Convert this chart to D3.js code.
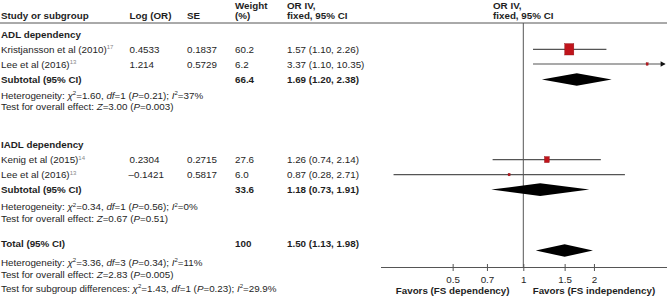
<!DOCTYPE html>
<html>
<head>
<meta charset="utf-8">
<script src="https://cdn.jsdelivr.net/npm/d3@7"></script>
<style>
  body { margin: 0; background: #fff; }
  svg { display: block; font-family: "Liberation Sans", Arial, sans-serif; }
</style>
</head>
<body>
<svg id="forest" width="667" height="301"></svg>
<script>
// ---- data ----
const groupNames = ["ADL dependency", "IADL dependency"];

const studyNames = ["Kristjansson et al (2010)", "Lee et al (2016)", "Kenig et al (2015)", "Lee et al (2016)"];
const studyRefs = ["17", "13", "14", "13"];
const studyLogOR = ["0.4533", "1.214", "0.2304", "\u20130.1421"];
const studySE = ["0.1837", "0.5729", "0.2715", "0.5817"];
const studyWeight = [60.2, 6.2, 27.6, 6.0];
const studyOR = [1.57, 3.37, 1.26, 0.87];
const studyLo = [1.10, 1.10, 0.74, 0.28];
const studyHi = [2.26, 10.35, 2.14, 2.71];

const summaryNames = ["Subtotal (95% CI)", "Subtotal (95% CI)", "Total (95% CI)"];
const summaryWeight = ["66.4", "33.6", "100"];
const summaryOR = [1.69, 1.18, 1.50];
const summaryLo = [1.20, 0.73, 1.13];
const summaryHi = [2.38, 1.91, 1.98];

// _x_ = italic, ^x^ = superscript
const noteLines = [
    "Heterogeneity: _\u03c7_^2^=1.60, _df_=1 (_P_=0.21); _I_^2^=37%",
    "Test for overall effect: _Z_=3.00 (_P_=0.003)",
    "Heterogeneity: _\u03c7_^2^=0.34, _df_=1 (_P_=0.56); _I_^2^=0%",
    "Test for overall effect: _Z_=0.67 (_P_=0.51)",
    "Heterogeneity: _\u03c7_^2^=3.36, _df_=3 (_P_=0.34); _I_^2^=11%",
    "Test for overall effect: _Z_=2.83 (_P_=0.005)",
    "Test for subgroup differences: _\u03c7_^2^=1.43, _df_=1 (_P_=0.23); _I_^2^=29.9%"
];

const tickValues = [0.5, 0.7, 1, 1.5, 2];
const favorLabels = ["Favors (FS dependency)", "Favors (FS independency)"];

// ---- layout ----
const W = 667, H = 301;
const textColor = "#1e1e1e";
const lineColor = "#555";
const fs = 9.8;

const col = { study: 1, logOR: 129.5, se: 187, weight: 235, ci: 287, plot: 493 };
const headerLineY = 23;
const axisY = 267.5;
const yGroup = [34, 144.5];
const yStudy = [49.3, 64, 159.6, 174.6];
const ySummary = [79, 189.6, 243.5];
const yDiamond = [79.5, 189.6, 250.5];
const yNotes = [95, 106.8, 206.8, 218.3, 262.5, 274.5, 288.5];

const svg = d3.select("#forest");
svg.append("rect").attr("width", W).attr("height", H).attr("fill", "#fff");

const x = d3.scaleLog().domain([0.25, 4]).range([382, 664.6]);
const boxH = d3.scaleLinear().domain([0, d3.max(studyWeight)]).range([1.5, 11.4]);

// text with italic / superscript runs
function richText(parent, str, xPos, yc, opts = {}) {
    const t = parent.append("text")
        .attr("x", xPos)
        .attr("y", yc + 3.5)
        .attr("fill", textColor)
        .style("font-size", fs + "px")
        .style("font-weight", opts.bold ? "bold" : "normal");
    const parts = str.split(/(_[^_]+_|\^[^^]+\^)/).filter(s => s.length);
    let raised = false;
    parts.forEach(p => {
        const ts = t.append("tspan");
        if (p[0] === "^") {
            ts.attr("dy", -3.6).style("font-size", "6px").text(p.slice(1, -1));
            if (opts.supColor) ts.attr("fill", opts.supColor);
            raised = true;
            return;
        }
        if (p[0] === "_") ts.style("font-style", "italic").text(p.slice(1, -1));
        else ts.text(p);
        if (raised) { ts.attr("dy", 3.6); raised = false; }
    });
    return t;
}

function plainText(str, xPos, yc, bold, anchor) {
    return svg.append("text")
        .attr("x", xPos)
        .attr("y", yc + 3.5)
        .attr("fill", textColor)
        .attr("text-anchor", anchor || "start")
        .style("font-size", fs + "px")
        .style("font-weight", bold ? "bold" : "normal")
        .text(str);
}

const fmt2 = d3.format(".2f");
const ciText = (e, l, h) => `${fmt2(e)} (${fmt2(l)}, ${fmt2(h)})`;

// ---- header ----
plainText("Weight", col.weight, 5, true);
plainText("OR IV,", col.ci, 5, true);
plainText("OR IV,", col.plot, 5, true);
plainText("Study or subgroup", col.study, 15.7, true);
plainText("Log (OR)", col.logOR, 15.7, true);
plainText("SE", col.se, 15.7, true);
plainText("(%)", col.weight, 15.7, true);
plainText("fixed, 95% CI", col.ci, 15.7, true);
plainText("fixed, 95% CI", col.plot, 15.7, true);

svg.append("line")
    .attr("x1", 0).attr("x2", W)
    .attr("y1", headerLineY).attr("y2", headerLineY)
    .attr("stroke", lineColor).attr("stroke-width", 1);

// line of no effect
svg.append("line")
    .attr("x1", x(1)).attr("x2", x(1))
    .attr("y1", headerLineY).attr("y2", axisY)
    .attr("stroke", lineColor).attr("stroke-width", 1);

// ---- table text ----
groupNames.forEach((g, i) => plainText(g, col.study, yGroup[i], true));

studyNames.forEach((s, i) => {
    richText(svg, `${s}^${studyRefs[i]}^`, col.study, yStudy[i], { supColor: "#888" });
    plainText(studyLogOR[i], studyLogOR[i][0] === "\u2013" ? col.logOR - 1 : col.logOR, yStudy[i]);
    plainText(studySE[i], col.se, yStudy[i]);
    plainText(studyWeight[i].toFixed(1), col.weight, yStudy[i]);
    plainText(ciText(studyOR[i], studyLo[i], studyHi[i]), col.ci, yStudy[i]);
});

summaryNames.forEach((s, i) => {
    plainText(s, col.study, ySummary[i], true);
    plainText(summaryWeight[i], col.weight, ySummary[i], true);
    plainText(ciText(summaryOR[i], summaryLo[i], summaryHi[i]), col.ci, ySummary[i], true);
});

noteLines.forEach((n, i) => richText(svg, n, col.study, yNotes[i]));

// ---- forest marks ----
const [dMin, dMax] = x.domain();
const plot = svg.append("g");

studyNames.forEach((s, i) => {
    const lo = Math.max(studyLo[i], dMin);
    const hi = Math.min(studyHi[i], dMax);
    plot.append("line")
        .attr("x1", x(lo)).attr("x2", x(hi))
        .attr("y1", yStudy[i]).attr("y2", yStudy[i])
        .attr("stroke", lineColor).attr("stroke-width", 1.2);
    if (studyHi[i] > dMax) {
        // CI runs off the scale: arrow head
        const ax = x(dMax);
        plot.append("path")
            .attr("d", `M${ax - 4},${yStudy[i] - 2.8}L${ax + 1},${yStudy[i]}L${ax - 4},${yStudy[i] + 2.8}Z`)
            .attr("fill", "#111");
    }
    const h = boxH(studyWeight[i]);
    const w = h * 0.8;
    plot.append("rect")
        .attr("x", x(studyOR[i]) - w / 2)
        .attr("y", yStudy[i] - h / 2)
        .attr("width", w).attr("height", h)
        .attr("fill", "#c0141b")
        .attr("stroke", "#8e1014").attr("stroke-width", 0.4);
});

summaryNames.forEach((s, i) => {
    const yc = yDiamond[i], hh = 6.3;
    plot.append("path")
        .attr("d", `M${x(summaryLo[i])},${yc}L${x(summaryOR[i])},${yc - hh}L${x(summaryHi[i])},${yc}L${x(summaryOR[i])},${yc + hh}Z`)
        .attr("fill", "#000");
});

// ---- axis ----
const axisG = svg.append("g")
    .attr("transform", `translate(0,${axisY})`)
    .call(d3.axisBottom(x)
        .tickValues(tickValues)
        .tickFormat(d => String(d))
        .tickSizeOuter(0));

axisG.select(".domain").remove();
axisG.append("line")
    .attr("x1", x.range()[0] - 1).attr("x2", W)
    .attr("stroke", lineColor).attr("stroke-width", 1);
axisG.selectAll(".tick line")
    .attr("y1", -3.5).attr("y2", 3.5)
    .attr("stroke", lineColor);
axisG.selectAll(".tick text")
    .attr("y", 15).attr("dy", 0)
    .attr("fill", textColor)
    .style("font-size", fs + "px")
    .style("font-family", "'Liberation Sans', Arial, sans-serif");

// favour labels centred under the outer ticks
[tickValues[0], tickValues[tickValues.length - 1]].forEach((v, i) => {
    plainText(favorLabels[i], x(v), 290, true, "middle");
});
</script>
</body>
</html>
